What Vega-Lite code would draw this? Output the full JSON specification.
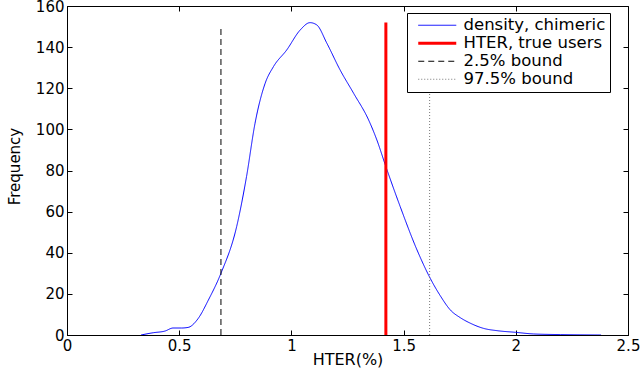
{
  "$schema": "https://vega.github.io/schema/vega-lite/v6.json",
  "autosize": "none",
  "width": 561,
  "height": 329,
  "padding": {"left": 67, "top": 6, "right": 12, "bottom": 39},
  "background": "white",
  "config": {
    "view": {"stroke": "black", "strokeWidth": 1},
    "font": "DejaVu Sans",
    "axis": {
      "grid": false,
      "domainColor": "black",
      "tickColor": "black",
      "tickSize": -5,
      "labelPadding": 8,
      "labelColor": "black",
      "labelFont": "DejaVu Sans",
      "labelFontSize": 15,
      "titleColor": "black",
      "titleFont": "DejaVu Sans",
      "titleFontWeight": "normal",
      "titleFontSize": 15
    }
  },
  "data": {
    "values": [
      {"series": "density, chimeric", "x": 0.33, "y": 0},
      {"series": "density, chimeric", "x": 0.384, "y": 1.1},
      {"series": "density, chimeric", "x": 0.436, "y": 1.9},
      {"series": "density, chimeric", "x": 0.473, "y": 3.4},
      {"series": "density, chimeric", "x": 0.51, "y": 3.4},
      {"series": "density, chimeric", "x": 0.54, "y": 3.7},
      {"series": "density, chimeric", "x": 0.585, "y": 8.1},
      {"series": "density, chimeric", "x": 0.63, "y": 17},
      {"series": "density, chimeric", "x": 0.686, "y": 30},
      {"series": "density, chimeric", "x": 0.756, "y": 52.7},
      {"series": "density, chimeric", "x": 0.8, "y": 77},
      {"series": "density, chimeric", "x": 0.838, "y": 103},
      {"series": "density, chimeric", "x": 0.883, "y": 122.4},
      {"series": "density, chimeric", "x": 0.92, "y": 130.5},
      {"series": "density, chimeric", "x": 0.979, "y": 138.6},
      {"series": "density, chimeric", "x": 1.039, "y": 148.3},
      {"series": "density, chimeric", "x": 1.083, "y": 151.9},
      {"series": "density, chimeric", "x": 1.113, "y": 150.8},
      {"series": "density, chimeric", "x": 1.158, "y": 141.9},
      {"series": "density, chimeric", "x": 1.217, "y": 128.9},
      {"series": "density, chimeric", "x": 1.277, "y": 117.6},
      {"series": "density, chimeric", "x": 1.344, "y": 104.6},
      {"series": "density, chimeric", "x": 1.381, "y": 94.8},
      {"series": "density, chimeric", "x": 1.421, "y": 81.9},
      {"series": "density, chimeric", "x": 1.485, "y": 62.4},
      {"series": "density, chimeric", "x": 1.56, "y": 41.3},
      {"series": "density, chimeric", "x": 1.619, "y": 27.5},
      {"series": "density, chimeric", "x": 1.664, "y": 19},
      {"series": "density, chimeric", "x": 1.708, "y": 12.2},
      {"series": "density, chimeric", "x": 1.753, "y": 8.4},
      {"series": "density, chimeric", "x": 1.798, "y": 5.7},
      {"series": "density, chimeric", "x": 1.857, "y": 3.2},
      {"series": "density, chimeric", "x": 1.917, "y": 2.1},
      {"series": "density, chimeric", "x": 1.999, "y": 1.3},
      {"series": "density, chimeric", "x": 2.08, "y": 0.5},
      {"series": "density, chimeric", "x": 2.2, "y": 0.2},
      {"series": "density, chimeric", "x": 2.38, "y": 0},
      {"series": "HTER, true users", "x": 1.421, "y": 0},
      {"series": "HTER, true users", "x": 1.421, "y": 152},
      {"series": "2.5% bound", "x": 0.686, "y": 0},
      {"series": "2.5% bound", "x": 0.686, "y": 150},
      {"series": "97.5% bound", "x": 1.616, "y": 0},
      {"series": "97.5% bound", "x": 1.616, "y": 150}
    ]
  },
  "layer": [
    {
      "mark": {"type": "line", "interpolate": "monotone", "clip": true},
      "encoding": {
        "x": {
          "field": "x", "type": "quantitative",
          "scale": {"domain": [0, 2.5], "nice": false, "zero": false},
          "axis": {"title": "HTER(%)", "format": "~g", "values": [0, 0.5, 1, 1.5, 2, 2.5], "labelFlush": false, "titleFontSize": 16, "titleY": 29, "titleBaseline": "alphabetic"}
        },
        "y": {
          "field": "y", "type": "quantitative",
          "scale": {"domain": [0, 160], "nice": false},
          "axis": {"title": "Frequency", "format": "d", "values": [0, 20, 40, 60, 80, 100, 120, 140, 160], "labelFlush": false, "titleX": -53, "titleY": 160, "titleAngle": -90, "titleBaseline": "middle", "titleAlign": "center"}
        },
        "color": {
          "field": "series", "type": "nominal",
          "scale": {"domain": ["density, chimeric", "HTER, true users", "2.5% bound", "97.5% bound"], "range": ["#0000ff", "#ff0000", "#000000", "#777777"]},
          "legend": {
            "title": null, "orient": "none", "legendX": 340, "legendY": 7,
            "strokeColor": "black", "fillColor": "white", "padding": 4,
            "labelFont": "DejaVu Sans", "labelFontSize": 16.5, "labelColor": "black",
            "symbolType": "M-3.8,0H3.8", "symbolSize": 100, "symbolOffset": 18, "labelOffset": 18, "rowPadding": 1,
            "encode": {"symbols": {"update": {"strokeWidth": {"signal": "datum.value === 'HTER, true users' ? 2.5 : 1"}}}}
          }
        },
        "strokeDash": {
          "field": "series", "type": "nominal",
          "scale": {"domain": ["density, chimeric", "HTER, true users", "2.5% bound", "97.5% bound"], "range": [[1, 0], [1, 0], [6, 4], [1, 2]]},
          "legend": null
        },
        "strokeWidth": {
          "field": "series", "type": "nominal",
          "scale": {"type": "ordinal", "domain": ["density, chimeric", "HTER, true users", "2.5% bound", "97.5% bound"], "range": [1, 3, 1, 1]},
          "legend": null
        }
      }
    },
    {
      "mark": {"type": "point", "opacity": 0},
      "encoding": {
        "x": {"field": "x", "type": "quantitative", "axis": {"orient": "top", "labels": false, "title": null, "domain": false, "values": [0, 0.5, 1, 1.5, 2, 2.5]}},
        "y": {"field": "y", "type": "quantitative", "axis": {"orient": "right", "labels": false, "title": null, "domain": false, "values": [0, 20, 40, 60, 80, 100, 120, 140, 160]}}
      }
    }
  ],
  "resolve": {"axis": {"x": "independent", "y": "independent"}}
}
